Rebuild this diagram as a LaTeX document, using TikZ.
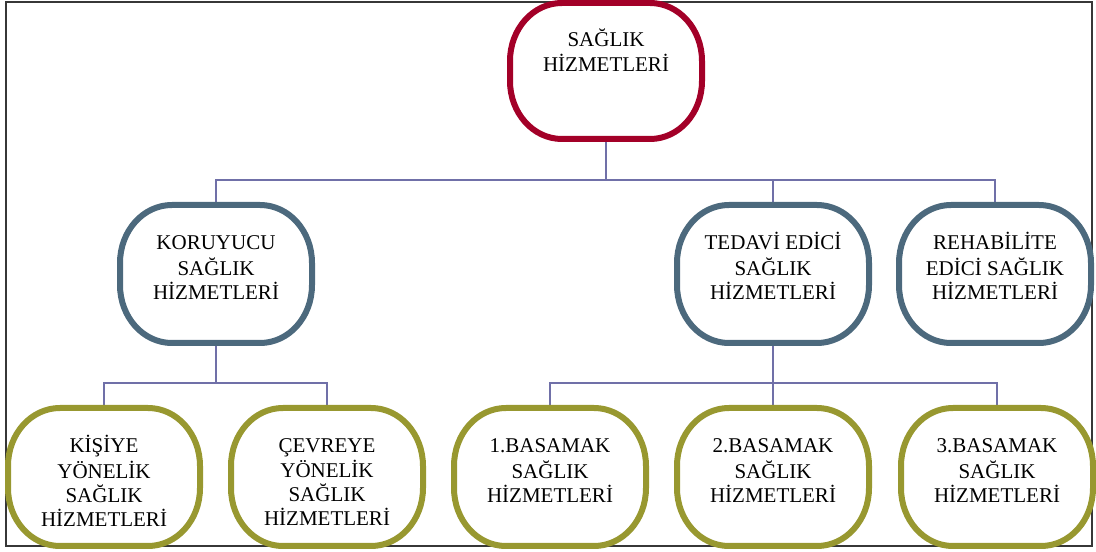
\documentclass[tikz,border=0pt]{standalone}
\usepackage{fontspec}
\setmainfont{Liberation Serif}
\usetikzlibrary{calc}
\definecolor{topred}{RGB}{163,0,40}
\definecolor{midblue}{RGB}{76,105,125}
\definecolor{lowolive}{RGB}{152,152,48}
\definecolor{linkline}{RGB}{112,112,168}
\definecolor{frameline}{RGB}{55,55,55}
\newcommand{\PillText}[2]{\parbox[t][#1][t]{190pt}{\centering\strut #2}}
% outline with elliptic corners, on the node's corners
\newcommand{\PillDraw}[2]{\draw[pill line,#2]($(#1.north west)+(52,0)$)--($(#1.north east)+(-52,0)$)
 ..controls($(#1.north east)+(-23,0)$)and($(#1.north east)+(0,-26)$)..($(#1.north east)+(0,-58)$)--($(#1.south east)+(0,58)$)
 ..controls($(#1.south east)+(0,26)$)and($(#1.south east)+(-23,0)$)..($(#1.south east)+(-52,0)$)--($(#1.south west)+(52,0)$)
 ..controls($(#1.south west)+(23,0)$)and($(#1.south west)+(0,26)$)..($(#1.south west)+(0,58)$)--($(#1.north west)+(0,-58)$)
 ..controls($(#1.north west)+(0,-26)$)and($(#1.north west)+(23,0)$)..($(#1.north west)+(52,0)$)--cycle;}
\tikzset{pillbox/.style={minimum width=192pt,minimum height=138pt,inner sep=0pt,outer sep=0pt,font=\fontsize{21}{24}\selectfont},
 pill line/.style={line width=6pt,line join=round},
 link/.style={linkline,line width=1.6pt}}

\begin{document}
\begin{tikzpicture}[x=1pt,y=1pt]
\useasboundingbox(0,0)rectangle(1096,552);
\draw[frameline,line width=1.8pt](6,6)rectangle(1092,550);
\node[pillbox,minimum height=136pt](sag)at(606,481){\PillText{85pt}{SAĞLIK\\HİZMETLERİ}};
\node[pillbox](kor)at(216,278){\PillText{83pt}{KORUYUCU\\SAĞLIK\\HİZMETLERİ}};
\node[pillbox](ted)at(773,278){\PillText{83pt}{TEDAVİ EDİCİ\\SAĞLIK\\HİZMETLERİ}};
\node[pillbox](reh)at(995,278){\PillText{83pt}{REHABİLİTE\\EDİCİ SAĞLIK\\HİZMETLERİ}};
\node[pillbox](kis)at(104,75){\PillText{83pt}{KİŞİYE\\YÖNELİK\\SAĞLIK\\HİZMETLERİ}};
\node[pillbox](cev)at(327,75){\PillText{83pt}{ÇEVREYE\\YÖNELİK\\SAĞLIK\\HİZMETLERİ}};
\node[pillbox](bas1)at(550,75){\PillText{83pt}{1.BASAMAK\\SAĞLIK\\HİZMETLERİ}};
\node[pillbox](bas2)at(773,75){\PillText{83pt}{2.BASAMAK\\SAĞLIK\\HİZMETLERİ}};
\node[pillbox](bas3)at(997,75){\PillText{83pt}{3.BASAMAK\\SAĞLIK\\HİZMETLERİ}};
% tree lines
\foreach \n in {kor,ted,reh}\draw[link](sag.south)--++(0,-41)-|(\n.north);
\foreach \n in {kis,cev}\draw[link](kor.south)--++(0,-40)-|(\n.north);
\foreach \n in {bas1,bas2,bas3}\draw[link](ted.south)--++(0,-40)-|(\n.north);
\PillDraw{sag}{topred}
\foreach \n in {kor,ted,reh}{\PillDraw{\n}{midblue}}
\foreach \n in {kis,cev,bas1,bas2,bas3}{\PillDraw{\n}{lowolive}}
\end{tikzpicture}
\end{document}
